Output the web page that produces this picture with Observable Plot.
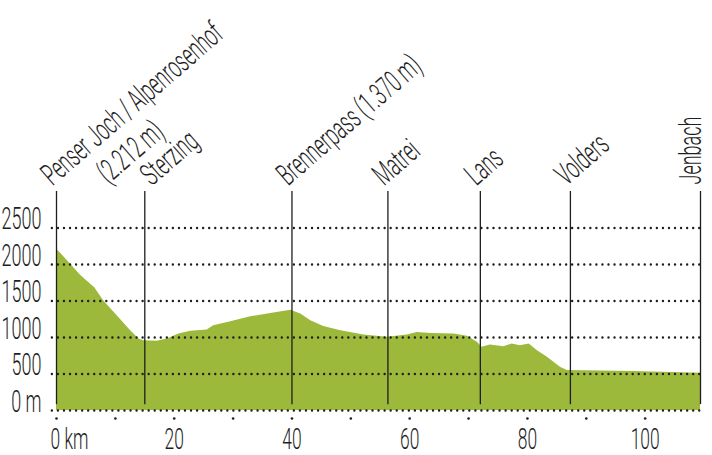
<!DOCTYPE html>
<html><head><meta charset="utf-8">
<script src="https://cdn.jsdelivr.net/npm/d3@7"></script>
<script src="https://cdn.jsdelivr.net/npm/@observablehq/plot@0.6"></script>
<style>body{margin:0;background:#fff}</style>
</head><body><div id="chart"></div>
<script>
const placeNames = ["Penser Joch / Alpenrosenhof", "Sterzing", "Brennerpass (1.370 m)", "Matrei", "Lans", "Volders", "Jenbach"];
const placeKm = [0, 15, 40, 56.3, 72, 87.3, 109.4];
const subLabel = "(2.212 m)";

const profileKm = [0, 1.2, 2.4, 4.0, 5.8, 6.5, 8.0, 10.3, 12.6, 14.0, 14.8, 17.1, 18.8, 20.8, 22.8, 25.6, 26.7, 29.6, 33.0, 36.4, 39.8, 41.5, 43.2, 45.4, 48.3, 52.2, 56.2, 59.6, 61.3, 63.6, 67.5, 69.8, 70.3, 71.5, 72.3, 73.7, 76.0, 77.4, 78.8, 80.3, 81.7, 83.4, 85.6, 86.8, 98.1, 109.4];
const profileElev = [2212, 2110, 2004, 1860, 1731, 1680, 1503, 1298, 1093, 979, 956, 947, 979, 1048, 1084, 1102, 1161, 1216, 1284, 1330, 1372, 1321, 1230, 1152, 1093, 1034, 1002, 1034, 1070, 1056, 1048, 1016, 993, 934, 865, 897, 874, 911, 888, 911, 820, 729, 592, 547, 533, 510];

const yTickValues = [0, 500, 1000, 1500, 2000, 2500];
const yTickLabels = ["0 m", "500", "1000", "1500", "2000", "2500"];
const xTickValues = [0, 20, 40, 60, 80, 100];
const xTickLabels = ["0 km", "20", "40", "60", "80", "100"];
const xMinorTicks = [0, 10, 20, 30, 40, 50, 60, 70, 80, 90, 100];

const places = placeNames.map((name, i) => ({name, km: placeKm[i]}));
const profile = profileKm.map((km, i) => ({km, elev: profileElev[i]}));
const ink = "#1e1e1e";
const font = "Roboto";
const labelStyle = {x: "km", y: 3000, text: "name", textAnchor: "start", lineAnchor: "bottom", dy: -5, fontSize: 31, fontWeight: 300, fill: ink};

const chart = Plot.plot({
  width: 712, height: 455,
  marginLeft: 56, marginRight: 12, marginTop: 191, marginBottom: 45,
  x: {domain: [0, 109.4], axis: null},
  y: {domain: [0, 3000], axis: null},
  style: {fontFamily: font, background: "white"},
  marks: [
    Plot.areaY(profile, {x: "km", y: "elev", fill: "#9db93c"}),
    Plot.ruleY(yTickValues, {x1: -0.7, x2: 109.7, stroke: ink, strokeWidth: 2.4, strokeDasharray: "0,6.05", strokeLinecap: "round"}),
    Plot.ruleX(places, {x: "km", y1: 80, y2: 3000, stroke: ink, strokeWidth: 1.3}),
    Plot.text(places, {...labelStyle, filter: d => d.name !== "Sterzing" && d.name !== "Jenbach", rotate: -41, dx: -4}),
    Plot.text(places, {...labelStyle, filter: d => d.name === "Sterzing", rotate: -41, dx: 7}),
    Plot.text(places, {...labelStyle, filter: d => d.name === "Jenbach", rotate: -90, dx: 0, dy: -7}),
    Plot.text([subLabel], {x: 0, y: 3000, text: d => d, rotate: -41, textAnchor: "start", lineAnchor: "bottom",
      dx: 52, dy: -7, fontSize: 31, fontWeight: 300, fill: ink}),
    Plot.text(yTickValues, {x: 0, y: d => d, text: (d, i) => yTickLabels[i], textAnchor: "end", lineAnchor: "bottom",
      dx: -15, dy: 1, fontSize: 31, fontWeight: 300, fill: ink}),
    Plot.text([xTickValues[0]], {x: d => d, y: 0, text: () => xTickLabels[0], textAnchor: "start", lineAnchor: "bottom",
      dx: -6, dy: 38, fontSize: 30, fontWeight: 300, fill: ink}),
    Plot.text(xTickValues.slice(1), {x: d => d, y: 0, text: (d, i) => xTickLabels[i + 1], textAnchor: "middle", lineAnchor: "bottom",
      dy: 38, fontSize: 30, fontWeight: 300, fill: ink}),
    Plot.dot(xMinorTicks, {x: d => d, y: 0, dy: 8, r: 1.3, fill: ink})
  ]
});
chart.querySelectorAll("text").forEach(t => {
  const tr = t.getAttribute("transform") || "";
  t.setAttribute("transform", tr + " scale(0.58,1)");
});
document.getElementById("chart").appendChild(chart);
</script>
</body></html>
